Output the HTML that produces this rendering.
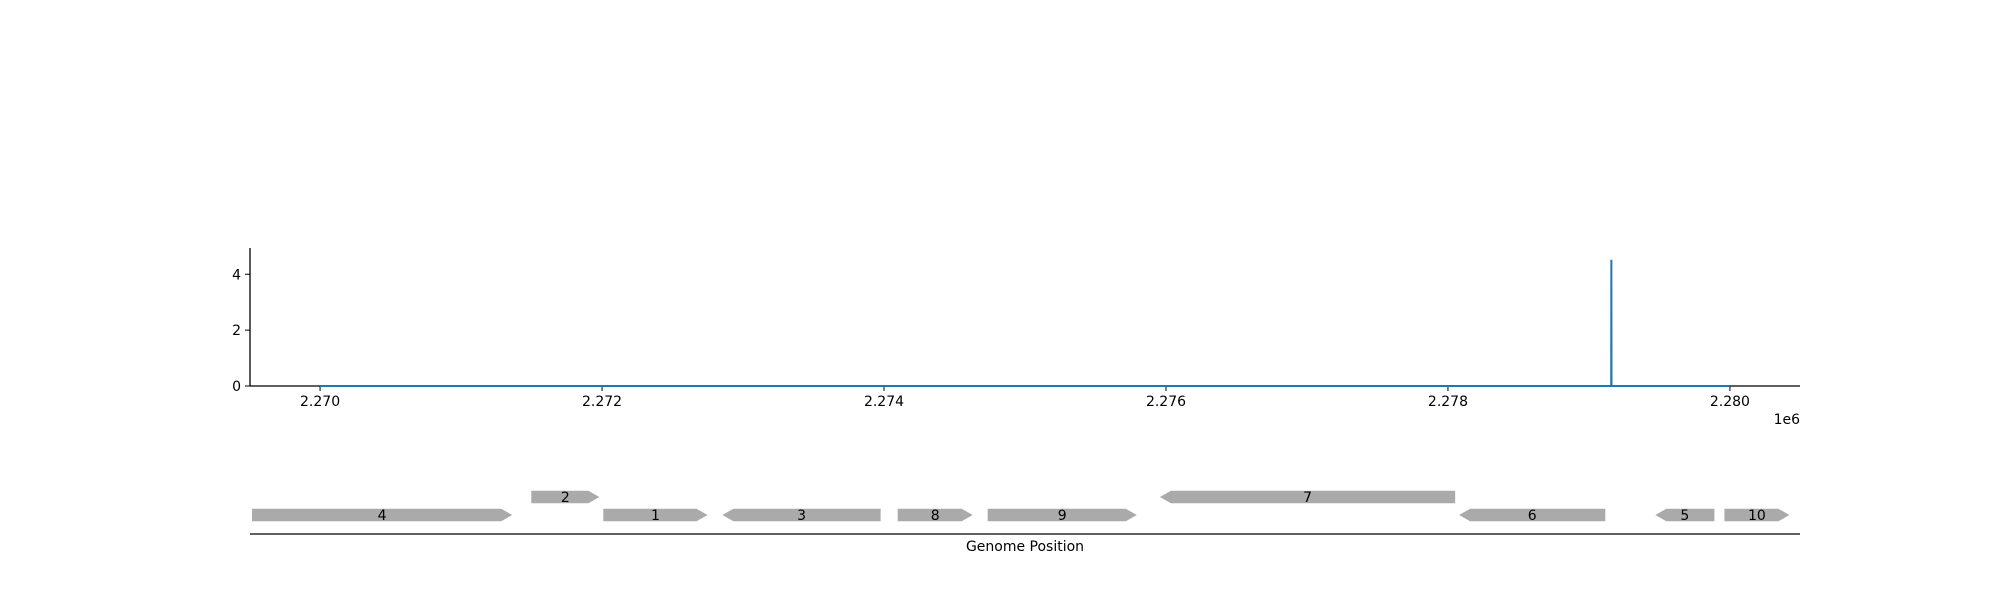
<!DOCTYPE html>
<html><head><meta charset="utf-8"><style>
body{margin:0;background:#fff}
svg text{font-family:"DejaVu Sans","Liberation Sans",sans-serif;font-size:14px;fill:#000}
</style></head><body>
<svg id="c" width="2000" height="600" xmlns="http://www.w3.org/2000/svg"></svg>
<script>
const xTicks=[2270000,2272000,2274000,2276000,2278000,2280000];
const xTickLabels=["2.270","2.272","2.274","2.276","2.278","2.280"];
const yTicks=[0,2,4];
const covX=[2270000,2279158,2279159,2279160,2280000];
const covY=[0,0,4.52,0,0];
const geneNames=["4","2","1","3","8","9","7","6","5","10"];
const geneStart=[2269517,2271498,2272009,2272854,2274097,2274735,2275957,2278079,2279471,2279961];
const geneEnd=[2271363,2271981,2272748,2273976,2274629,2275793,2278051,2279116,2279890,2280422];
const geneStrand=[1,1,1,-1,1,1,-1,-1,-1,1];
const geneRow=[0,1,0,0,0,0,1,0,0,0];

const NS="http://www.w3.org/2000/svg";
const svg=document.getElementById('c');
const X0=250,X1=1800,D0=2269503,D1=2280497;
const Y0=386,YT=248,V1=4.94;
const sx=v=>X0+(v-D0)/(D1-D0)*(X1-X0);
const sy=v=>Y0-v/V1*(Y0-YT);
function mk(t,a,p){const e=document.createElementNS(NS,t);for(const k in a)e.setAttribute(k,a[k]);(p||svg).appendChild(e);return e;}

let e;
e=mk('line',{x1:X0,y1:YT,x2:X0,y2:Y0,stroke:'#000','stroke-width':1.3});


e=mk('line',{x1:X0,y1:Y0,x2:X1,y2:Y0,stroke:'#000','stroke-width':1.3});



xTicks.forEach((v,i)=>{
  const x=sx(v);
  e=mk('line',{x1:x,y1:Y0,x2:x,y2:Y0+5,stroke:'#000','stroke-width':1});
  
  
  e=mk('text',{x:x,y:Y0+20,'text-anchor':'middle'});e.textContent=xTickLabels[i];
  
  
});
yTicks.forEach(v=>{
  const y=sy(v);
  e=mk('line',{x1:X0-5,y1:y,x2:X0,y2:y,stroke:'#000','stroke-width':1});
  
  
  e=mk('text',{x:X0-9,y:y+5,'text-anchor':'end'});e.textContent=String(v);
  
  
});
e=mk('text',{x:1800,y:424,'text-anchor':'end'});e.textContent='1e6';



e=mk('polyline',{points:covX.map((v,i)=>sx(v)+','+sy(covY[i])).join(' '),fill:'none',stroke:'#1f77b4','stroke-width':2});



const rowY=[515,497],H=12.5,AL=11;
geneNames.forEach((n,i)=>{
  const a=sx(geneStart[i]),b=sx(geneEnd[i]),cy=rowY[geneRow[i]],t=cy-H/2,bt=cy+H/2;
  let pts;
  if(geneStrand[i]>0) pts=[[a,t],[b-AL,t],[b,cy],[b-AL,bt],[a,bt]];
  else pts=[[a,cy],[a+AL,t],[b,t],[b,bt],[a+AL,bt]];
  e=mk('polygon',{points:pts.map(p=>p.join(',')).join(' '),fill:'#aaaaaa'});
  
  
  e=mk('text',{x:(a+b)/2,y:cy+5,'text-anchor':'middle'});e.textContent=n;
  
  
});
e=mk('line',{x1:X0,y1:534,x2:X1,y2:534,stroke:'#000','stroke-width':1.3});


e=mk('text',{x:1025,y:551,'text-anchor':'middle'});e.textContent='Genome Position';


</script>
</body></html>
